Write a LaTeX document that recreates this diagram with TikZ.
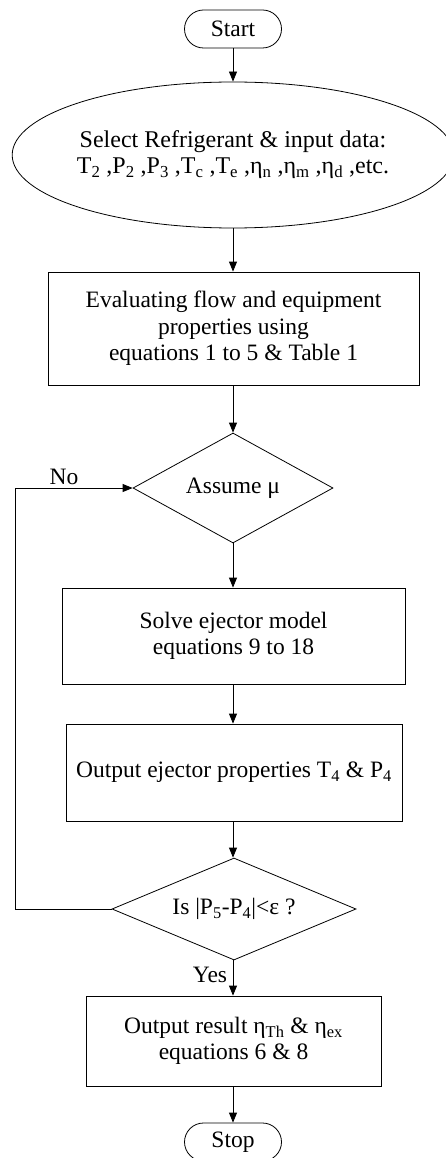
\documentclass[tikz,border=0pt]{standalone}
\usepackage{fontspec}
\setmainfont{Liberation Serif}
\usetikzlibrary{shapes.geometric,shapes.misc,arrows.meta}
\begin{document}
\begin{tikzpicture}[x=1pt,y=-1pt,
  txt/.style={font=\fontsize{23.5}{26.5}\selectfont},
  term/.style={txt,draw,rounded rectangle,minimum width=97pt,minimum height=38pt,inner sep=0pt,line width=0.8pt},
  proc/.style={txt,draw,rectangle,align=center,inner sep=0pt,line width=0.8pt},
  dec/.style={txt,draw,diamond,aspect=2,inner sep=0pt,line width=0.8pt},
  arr/.style={-{Triangle[length=10pt,width=8pt]},line width=0.8pt}]
\useasboundingbox (0,0) rectangle (445,1158);
\node[term] (start) at (233,29) {Start};
\node[draw,ellipse,minimum width=434pt,minimum height=146pt,inner sep=0pt,align=center,line width=0.8pt,
  font=\fontsize{24}{26}\selectfont] (sel) at (233,155)
  {Select Refrigerant \& input data:\\T\textsubscript{2} ,P\textsubscript{2} ,P\textsubscript{3} ,T\textsubscript{c} ,T\textsubscript{e} ,η\textsubscript{n} ,η\textsubscript{m} ,η\textsubscript{d} ,etc.};
\node[proc,minimum width=371pt,minimum height=113pt] (eval) at (233.5,328.5)
  {Evaluating flow and equipment\\properties using\\equations 1 to 5 \& Table 1};
\node[dec,minimum width=200pt,minimum height=110pt] (assume) at (233,488) {Assume μ};
\node[proc,minimum width=343pt,minimum height=96pt] (solve) at (233.5,636)
  {Solve ejector model\\equations 9 to 18};
\node[proc,minimum width=336pt,minimum height=97pt] (outp) at (234,772.5)
  {Output ejector properties T\textsubscript{4} \& P\textsubscript{4}};
\node[dec,minimum width=244pt,minimum height=102pt] (check) at (234,909)
  {Is |P\textsubscript{5}-P\textsubscript{4}|<ε ?};
\node[proc,minimum width=295pt,minimum height=90pt] (res) at (233.5,1041)
  {Output result η\textsubscript{Th} \& η\textsubscript{ex}\\equations 6 \& 8};
\node[term] (stop) at (233,1142) {Stop};
\node[txt] (no) at (64,477) {No};
\node[txt] (yes) at (210,975) {Yes};
\coordinate (lp) at (15,909);
\draw[arr] (start.south) -- (sel.north);
\draw[arr] (sel.south) -- (eval.north -| sel.south);
\draw[arr] (eval.south -| assume.north) -- (assume.north);
\draw[arr] (assume.south) -- (solve.north -| assume.south);
\draw[arr] (solve.south -| assume.south) -- (outp.north -| assume.south);
\draw[arr] (outp.south -| assume.south) -- (check.north -| assume.south);
\draw[arr] (check.south -| assume.south) -- (res.north -| assume.south);
\draw[arr] (res.south -| assume.south) -- (stop.north -| assume.south);
\draw[arr] (check.west) -- (lp) |- (assume.west);
\end{tikzpicture}
\end{document}
